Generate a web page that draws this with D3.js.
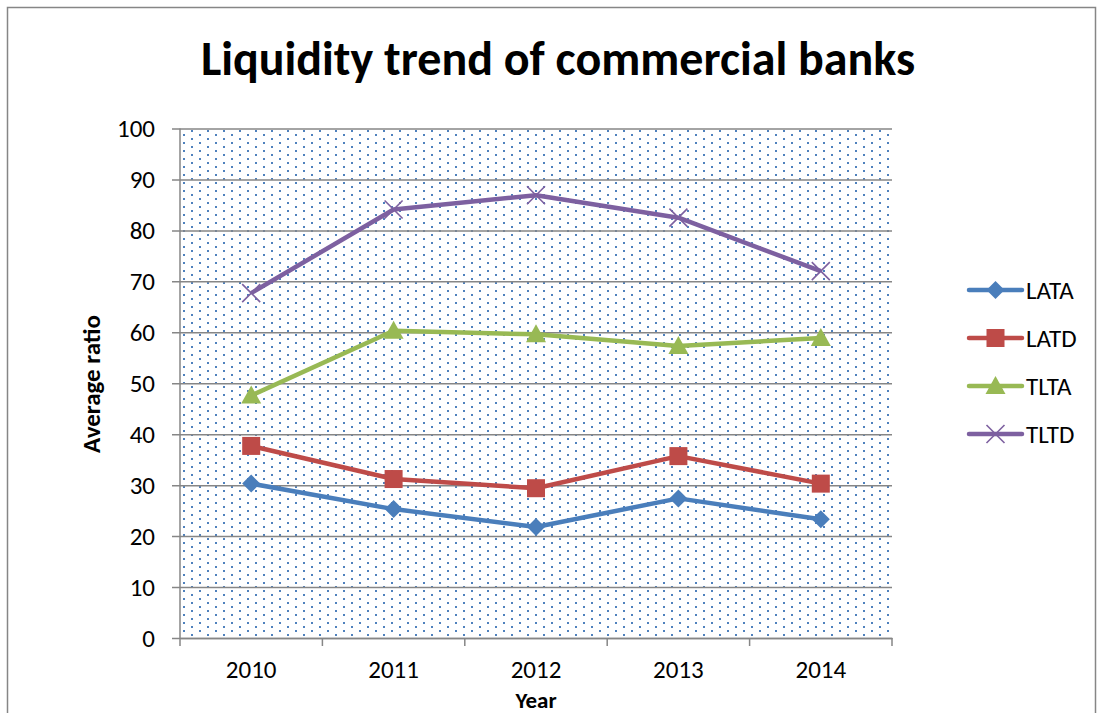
<!DOCTYPE html>
<html>
<head>
<meta charset="utf-8">
<script src="https://cdn.jsdelivr.net/npm/d3@7"></script>
<style>
  body { margin: 0; background: #fff; }
  text { font-family: Carlito, Calibri, "Open Sans", sans-serif; }
</style>
</head>
<body>
<div id="chart"></div>
<script>
// chart data
const years = ["2010", "2011", "2012", "2013", "2014"];
const lata = [30.3, 25.3, 21.8, 27.4, 23.3];
const latd = [37.7, 31.2, 29.4, 35.7, 30.3];
const tlta = [47.6, 60.3, 59.6, 57.3, 58.9];
const tltd = [67.7, 84.1, 86.9, 82.5, 72.0];
const yTicks = [0, 10, 20, 30, 40, 50, 60, 70, 80, 90, 100];

const series = [
  { name: "LATA", values: lata, color: "#4A7EBB", marker: "diamond" },
  { name: "LATD", values: latd, color: "#BE4B48", marker: "square" },
  { name: "TLTA", values: tlta, color: "#98B954", marker: "triangle" },
  { name: "TLTD", values: tltd, color: "#7D60A0", marker: "x" }
];

const width = 1103;
const height = 713;
const plot = { left: 180, right: 892, top: 128.5, bottom: 638 };
const font = "Carlito, Calibri, 'Open Sans', sans-serif";

const svg = d3.select("#chart")
  .append("svg")
  .attr("width", width)
  .attr("height", height);

// outer chart border
svg.append("rect")
  .attr("x", 7.5)
  .attr("y", 7.5)
  .attr("width", 1088)
  .attr("height", 720)
  .attr("fill", "#fff")
  .attr("stroke", "#868686")
  .attr("stroke-width", 1.5);

// dotted plot-area fill (staggered dots)
const defs = svg.append("defs");
const pattern = defs.append("pattern")
  .attr("id", "dots")
  .attr("patternUnits", "userSpaceOnUse")
  .attr("x", 180)
  .attr("y", 128)
  .attr("width", 16)
  .attr("height", 8);
pattern.append("rect")
  .attr("width", 16).attr("height", 8).attr("fill", "#fff");
pattern.append("rect")
  .attr("x", 11).attr("y", 2)
  .attr("width", 2).attr("height", 2)
  .attr("shape-rendering", "crispEdges")
  .attr("fill", "#4F81BD");
pattern.append("rect")
  .attr("x", 3).attr("y", 6)
  .attr("width", 2).attr("height", 2)
  .attr("shape-rendering", "crispEdges")
  .attr("fill", "#4F81BD");

const xScale = d3.scaleBand()
  .domain(years)
  .range([plot.left, plot.right]);

const yScale = d3.scaleLinear()
  .domain([0, 100])
  .range([plot.bottom, plot.top]);

svg.append("rect")
  .attr("x", plot.left)
  .attr("y", plot.top)
  .attr("width", plot.right - plot.left)
  .attr("height", plot.bottom - plot.top)
  .attr("fill", "url(#dots)");

// horizontal gridlines + y axis
const yAxis = svg.append("g")
  .attr("transform", `translate(${plot.left},0)`)
  .call(d3.axisLeft(yScale)
    .tickValues(yTicks)
    .tickSize(-(plot.right - plot.left))
    .tickSizeOuter(0)
    .tickPadding(25));

yAxis.select(".domain").remove();
yAxis.selectAll(".tick line")
  .attr("x1", -8)
  .attr("stroke", "#868686")
  .attr("stroke-width", 1.5);
yAxis.selectAll(".tick text")
  .attr("font-size", 25)
  .attr("fill", "#000")
  .style("font-family", font);

// vertical axis line
svg.append("line")
  .attr("x1", plot.left).attr("x2", plot.left)
  .attr("y1", plot.top).attr("y2", plot.bottom)
  .attr("stroke", "#868686")
  .attr("stroke-width", 1.5);

// x axis with ticks between categories
const xAxis = svg.append("g")
  .attr("transform", `translate(0,${plot.bottom})`)
  .call(d3.axisBottom(xScale).tickSize(0));
xAxis.select(".domain")
  .attr("stroke", "#868686")
  .attr("stroke-width", 1.5);
xAxis.selectAll(".tick text")
  .attr("y", 40)
  .attr("dy", 0)
  .attr("font-size", 25)
  .attr("fill", "#000")
  .style("font-family", font);

const bounds = years.map(function(d) { return xScale(d); }).concat([plot.right]);
svg.selectAll(".xtick")
  .data(bounds)
  .enter()
  .append("line")
  .attr("x1", function(d) { return d; })
  .attr("x2", function(d) { return d; })
  .attr("y1", plot.bottom)
  .attr("y2", plot.bottom + 8)
  .attr("stroke", "#868686")
  .attr("stroke-width", 1.5);

// marker drawing
function drawMarker(g, type, color) {
  if (type === "diamond") {
    g.append("path").attr("d", "M0,-9L9,0L0,9L-9,0Z").attr("fill", color);
  } else if (type === "square") {
    g.append("rect").attr("x", -9).attr("y", -9).attr("width", 18).attr("height", 18).attr("fill", color);
  } else if (type === "triangle") {
    g.append("path").attr("d", "M0,-10L10,8L-10,8Z").attr("fill", color);
  } else {
    g.append("path").attr("d", "M-9,-9L9,9M-9,9L9,-9")
      .attr("stroke", color).attr("stroke-width", 1.6).attr("fill", "none");
  }
}

const line = d3.line()
  .x(function(d, i) { return xScale(years[i]) + xScale.bandwidth() / 2; })
  .y(function(d) { return yScale(d); });

series.forEach(function(s) {
  svg.append("path")
    .datum(s.values)
    .attr("d", line)
    .attr("fill", "none")
    .attr("stroke", s.color)
    .attr("stroke-width", 4.5)
    .attr("stroke-linejoin", "round");

  s.values.forEach(function(v, i) {
    const g = svg.append("g")
      .attr("transform", `translate(${xScale(years[i]) + xScale.bandwidth() / 2},${yScale(v)})`);
    drawMarker(g, s.marker, s.color);
  });
});

// legend
const legendY = [290, 338, 386, 434];
series.forEach(function(s, i) {
  const g = svg.append("g").attr("transform", `translate(0,${legendY[i]})`);
  g.append("line")
    .attr("x1", 969).attr("x2", 1022)
    .attr("stroke", s.color)
    .attr("stroke-width", 4.5)
    .attr("stroke-linecap", "round");
  const m = g.append("g").attr("transform", "translate(995.5,0)");
  drawMarker(m, s.marker, s.color);
  g.append("text")
    .attr("x", 1026)
    .attr("y", 8.5)
    .attr("font-size", 25)
    .text(s.name);
});

// title and axis titles
svg.append("text")
  .attr("x", 558)
  .attr("y", 75)
  .attr("text-anchor", "middle")
  .attr("font-size", 48)
  .attr("font-weight", "bold")
  .text("Liquidity trend of commercial banks");

svg.append("text")
  .attr("x", -384)
  .attr("y", 100)
  .attr("text-anchor", "middle")
  .attr("transform", "rotate(-90)")
  .attr("font-size", 25)
  .attr("font-weight", "bold")
  .text("Average ratio");

svg.append("text")
  .attr("x", 536)
  .attr("y", 708)
  .attr("text-anchor", "middle")
  .attr("font-size", 23)
  .attr("font-weight", "bold")
  .text("Year");
</script>
</body>
</html>
